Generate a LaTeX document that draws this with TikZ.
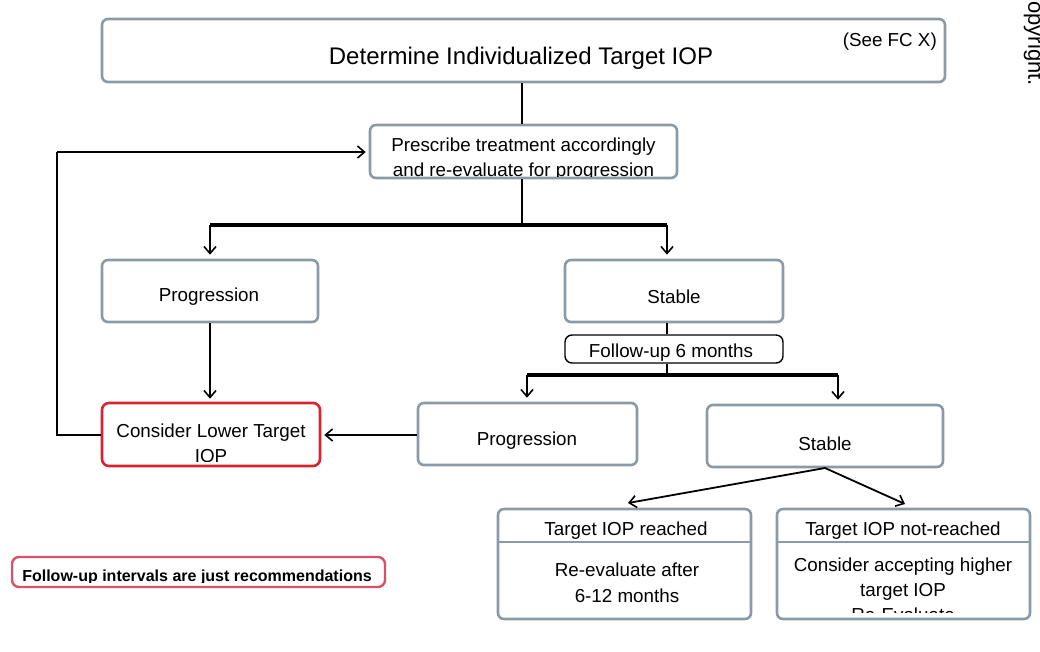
\documentclass[tikz,border=0pt]{standalone}
\usepackage{fontspec}
\setmainfont{Liberation Sans}
\usetikzlibrary{arrows.meta,calc}
\definecolor{boxgray}{RGB}{138,155,166}
\definecolor{boxred}{RGB}{218,35,48}
\definecolor{notered}{RGB}{216,80,106}
\tikzset{
  gbox/.style={draw=boxgray, line width=2.6pt, rounded corners=6pt, fill=white, inner sep=0pt},
  rbox/.style={draw=boxred, line width=2.6pt, rounded corners=7pt, fill=white, inner sep=0pt},
  kbox/.style={draw=black, line width=1.4pt, rounded corners=7pt, fill=white, inner sep=0pt},
  nbox/.style={draw=notered, line width=2.4pt, rounded corners=7pt, fill=white, inner sep=0pt},
  txt/.style={font=\fontsize{18.8}{25}\selectfont, align=center, inner sep=0pt},
  conn/.style={line width=1.8pt, black},
  bus/.style={line width=3.4pt, black},
  arr/.style={line width=1.8pt, black, -{Straight Barb[length=7pt,width=12pt,line width=1.6pt]}},
}
\begin{document}
\begin{tikzpicture}[x=1pt,y=-1pt]
\fill[white] (0,0) rectangle (1040,651);
\useasboundingbox (0,0) rectangle (1040,651);

% top box
\node[gbox, minimum width=843pt, minimum height=63pt] (top) at (523.5,50.5) {};
\node[txt, font=\fontsize{24}{26}\selectfont] (toptxt) at (521,58) {Determine Individualized Target IOP};
\node[txt, font=\fontsize{18.8}{20}\selectfont, anchor=east] (seefc) at (937,42) {(See FC X)};

% prescribe
\node[gbox, minimum width=307pt, minimum height=53pt] (pres) at (523.5,151.5) {};
\begin{scope}
  \clip (372,127) rectangle (675,176);
  \node[txt] (prestxt) at (523.5,159.5) {Prescribe treatment accordingly\\and re-evaluate for progression};
\end{scope}

% first level
\node[gbox, minimum width=216pt, minimum height=62pt] (prog1) at (210,291) {};
\node[txt] (prog1txt) at (209,297) {Progression};
\node[gbox, minimum width=218pt, minimum height=62pt] (stab1) at (674,291) {};
\node[txt] (stab1txt) at (674,297) {Stable};

% follow up
\node[kbox, minimum width=218pt, minimum height=28pt] (fol) at (674,349) {};
\node[txt] (foltxt) at (671,353) {Follow-up 6 months};

% second level
\node[gbox, minimum width=219pt, minimum height=62pt] (prog2) at (527.5,434) {};
\node[txt] (prog2txt) at (527,441) {Progression};
\node[gbox, minimum width=236pt, minimum height=62pt] (stab2) at (825,436) {};
\node[txt] (stab2txt) at (825,444) {Stable};

% consider lower
\node[rbox, minimum width=218pt, minimum height=63pt] (cons) at (211,434.5) {};
\begin{scope}
  \clip (104,405) rectangle (318,461.5);
  \node[txt] (constxt) at (211,443) {Consider Lower Target\\IOP};
\end{scope}

% bottom boxes
\node[gbox, minimum width=253pt, minimum height=110pt] (bl) at (624.5,564) {};
\draw[boxgray, line width=2.6pt] (bl.west |- 0,542) -- (bl.east |- 0,542);
\node[txt] (blh) at (626,531) {Target IOP reached};
\begin{scope}
  \clip (500,545) rectangle (749,603.5);
  \node[txt, font=\fontsize{18.8}{26}\selectfont] (blb) at (627,583) {Re-evaluate after\\6-12 months};
\end{scope}

\node[gbox, minimum width=253pt, minimum height=110pt] (br) at (903.5,564) {};
\draw[boxgray, line width=2.6pt] (br.west |- 0,542) -- (br.east |- 0,542);
\node[txt] (brh) at (903,531) {Target IOP not-reached};
\begin{scope}
  \clip (779,545) rectangle (1028,612.5);
  \node[txt] (brb) at (903,590) {Consider accepting higher\\target IOP\\Re-Evaluate};
\end{scope}

% note
\node[nbox, minimum width=373pt, minimum height=30pt] (note) at (198.5,572) {};
\begin{scope}
  \clip (14,559) rectangle (383,582.5);
  \node[txt, font=\bfseries\fontsize{16}{18}\selectfont] (notetxt) at (197,577) {Follow-up intervals are just recommendations};
\end{scope}

% copyright
\node[txt, font=\fontsize{22}{24}\selectfont, rotate=-90, anchor=east] (copy) at (1034,86) {Copyright.};

% connectors
\draw[conn] (top.south -| 522,0) -- (pres.north -| 522,0);
\coordinate (b1) at (522,225);
\coordinate (b1L) at (210,225);
\coordinate (b1R) at (667,225);
\draw[conn] (pres.south -| b1) -- (b1);
\draw[bus] (b1L) -- (b1R);
\draw[arr] (b1L) -- ([yshift=4pt]b1L |- prog1.north);
\draw[arr] (b1R) -- ([yshift=4pt]b1R |- stab1.north);

\draw[conn] (stab1.south -| b1R) -- (fol.north -| b1R);
\coordinate (b2) at (667,375);
\coordinate (b2L) at (527,375);
\coordinate (b2R) at (838,375);
\draw[conn] (fol.south -| b2) -- (b2);
\draw[bus] (b2L) -- (b2R);
\draw[arr] (b2L) -- ([yshift=4pt]b2L |- prog2.north);
\draw[arr] (b2R) -- ([yshift=4pt]b2R |- stab2.north);

\draw[arr] (prog1.south) -- ([yshift=3pt]prog1.south |- cons.north);
\draw[arr] (prog2.west |- 0,435) -- ([xshift=3pt]cons.east |- 0,435);
\coordinate (fb1) at (57,435);
\coordinate (fb2) at (57,152);
\draw[conn] (cons.west |- fb1) -- (fb1) -- (fb2);
\draw[arr] (fb2) -- ([xshift=-3pt]pres.west |- fb2);

\coordinate (s2b) at (825,468);
\draw[arr] (s2b) -- (628,503);
\draw[arr] (s2b) -- (905,504);
\end{tikzpicture}
\end{document}
